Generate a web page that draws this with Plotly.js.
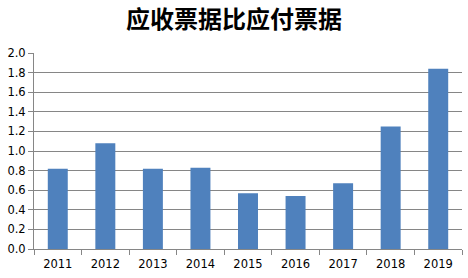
<!DOCTYPE html>
<html><head><meta charset="utf-8">
<script src="https://cdn.plot.ly/plotly-3.0.1.min.js"></script>
<style>html,body{margin:0;padding:0;background:#fff}#c{width:468px;height:278px}</style>
</head><body><div id="c"></div>
<script>
var years = ['2011','2012','2013','2014','2015','2016','2017','2018','2019'];
var ratio = [0.82, 1.08, 0.82, 0.83, 0.57, 0.54, 0.67, 1.25, 1.84];
var yTicks = [0,0.2,0.4,0.6,0.8,1.0,1.2,1.4,1.6,1.8,2.0];
var yTickText = ['0.0','0.2','0.4','0.6','0.8','1.0','1.2','1.4','1.6','1.8','2.0'];

Plotly.newPlot('c', [{
  type: 'bar', x: years, y: ratio,
  marker: {color: '#4f81bd'}, hoverinfo: 'none'
}], {
  width: 468, height: 278,
  margin: {l: 34, r: 6, t: 53, b: 29},
  paper_bgcolor: '#fff', plot_bgcolor: '#fff',
  bargap: 0.58,
  showlegend: false,
  title: {text: '应收票据比应付票据', font: {family: 'Noto Sans CJK SC', size: 24, color: '#000', weight: 'bold'}, x: 0.5, xanchor: 'center', y: 0.93, yanchor: 'middle'},
  xaxis: {
    type: 'category', showgrid: false, showline: true, linecolor: '#868686', linewidth: 1,
    ticks: 'outside', ticklen: 5, tickcolor: '#868686', tickson: 'boundaries',
    ticklabelstandoff: 4,
    tickfont: {family: 'DejaVu Sans', size: 11.5, color: '#000'}
  },
  yaxis: {
    range: [0, 2.0], tickvals: yTicks, ticktext: yTickText,
    showgrid: true, gridcolor: '#868686', gridwidth: 1,
    showline: true, linecolor: '#868686', linewidth: 1,
    ticks: 'outside', ticklen: 5, tickcolor: '#868686',
    zeroline: false,
    tickfont: {family: 'DejaVu Sans', size: 11.5, color: '#000'}
  }
}, {staticPlot: true});
</script></body></html>
